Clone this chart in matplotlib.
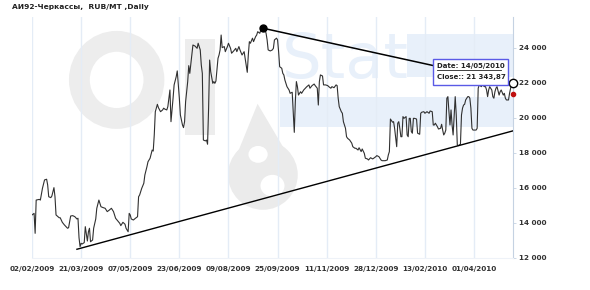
import matplotlib
matplotlib.use("Agg")
import matplotlib.pyplot as plt
import matplotlib.patches as mpatches
import pandas as pd

# ---------------- data ----------------
start_date = "2009-02-02"
day_offsets = [0, 2, 3, 4, 7, 8, 10, 12, 14, 15, 16, 18, 19, 21, 22, 23, 26, 27, 29, 31,
               34, 35, 37, 39, 41, 43, 44, 45, 46, 47, 48, 50, 51, 53, 54, 55, 56, 58, 59, 61,
               62, 64, 66, 68, 70, 72, 74, 76, 78, 80, 82, 84, 85, 87, 89, 90, 91, 92, 93, 94,
               95, 97, 99, 101, 102, 103, 105, 107, 108, 110, 111, 113, 115, 116, 117, 118, 120, 121, 123, 125,
               126, 127, 129, 130, 132, 133, 135, 136, 138, 139, 140, 141, 142, 144, 145, 146, 147, 149, 150, 151,
               153, 154, 156, 158, 159, 161, 162, 163, 164, 166, 167, 168, 169, 170, 171, 173, 174, 175, 176, 178,
               179, 180, 181, 182, 184, 185, 187, 188, 190, 191, 193, 195, 196, 198, 199, 201, 203, 204, 206, 207,
               208, 209, 211, 212, 214, 215, 216, 218, 219, 221, 223, 224, 225, 226, 228, 230, 231, 232, 234, 235,
               236, 237, 239, 240, 241, 242, 244, 246, 247, 249, 250, 251, 252, 253, 254, 255, 257, 258, 260, 262,
               263, 265, 266, 268, 270, 271, 273, 274, 275, 276, 278, 279, 281, 283, 284, 286, 287, 289, 291, 292,
               293, 294, 296, 297, 298, 300, 301, 302, 304, 306, 307, 309, 310, 312, 313, 315, 316, 318, 319, 321,
               322, 324, 326, 327, 329, 330, 332, 334, 335, 337, 338, 340, 341, 342, 343, 345, 346, 347, 349, 350,
               351, 352, 353, 354, 355, 356, 358, 359, 360, 361, 362, 363, 364, 365, 366, 368, 369, 371, 372, 373,
               375, 376, 378, 380, 381, 383, 384, 385, 386, 387, 388, 389, 391, 392, 393, 394, 395, 396, 397, 398,
               399, 400, 401, 402, 403, 404, 405, 406, 407, 408, 409, 410, 411, 412, 413, 414, 415, 416, 417, 418,
               419, 420, 421, 422, 424, 425, 426, 427, 428, 430, 431, 433, 434, 435, 436, 437, 438, 440, 441, 442,
               443, 444, 445, 447, 448, 449, 451, 452, 453, 454, 456, 457, 458, 459, 460]
close_values = [14460, 14550, 13410, 15310, 15350, 15310, 15980, 16460, 16500, 16170, 15500, 15450, 15540, 16020, 15500, 14460, 14300, 14300, 14040, 13890,
                13700, 13730, 14400, 14420, 14360, 14230, 14270, 13160, 12650, 12840, 12800, 12880, 13790, 12970, 13500, 13700, 12930, 13030, 13700, 14230,
                14840, 15310, 14930, 14880, 14840, 14650, 14740, 14840, 14650, 14270, 14120, 13980, 13850, 14040, 13930, 13700, 13600, 13500, 14550, 14460,
                14230, 14170, 14270, 14360, 15500, 15600, 15980, 16270, 16740, 17220, 17500, 17700, 18170, 18110, 19030, 20360, 20780, 20590, 20360, 20460,
                20560, 20510, 20460, 20650, 21600, 19790, 21130, 21890, 22360, 22690, 21890, 21130, 20170, 19600, 19450, 19790, 20930, 22080, 22990, 22550,
                23600, 24170, 24110, 23980, 24270, 23890, 23030, 22550, 18740, 18690, 18740, 18500, 20560, 23310, 22650, 21980, 22080, 21980, 22110, 23410,
                23600, 23890, 24740, 24020, 24080, 23790, 24080, 24270, 23980, 23700, 23830, 23980, 23790, 24080, 23890, 23600, 23790, 23410, 22610, 23600,
                24360, 24270, 24560, 24360, 24650, 24740, 24930, 24840, 25030, 25130, 25030, 24840, 24460, 23890, 23830, 23890, 23980, 24460, 24560, 24460,
                23790, 22930, 22840, 22550, 22460, 22170, 21790, 21600, 21410, 21470, 20360, 19180, 20930, 22080, 21790, 21310, 21500, 21410, 21600, 21730,
                21790, 21890, 21700, 21850, 21940, 21850, 21700, 20740, 22080, 22460, 22400, 21890, 21890, 21850, 21790, 21700, 21790, 21730, 21890, 21850,
                21130, 20650, 20360, 20270, 19790, 19410, 18930, 18840, 18740, 18560, 18360, 18270, 18270, 18170, 18300, 18080, 18230, 17980, 17700, 17660,
                17600, 17730, 17660, 17700, 17790, 17850, 17790, 17600, 17560, 17560, 17560, 17600, 17890, 18080, 19940, 19760, 19790, 19410, 18360, 19700,
                19790, 19410, 18930, 18930, 20080, 19980, 20080, 19030, 18930, 19980, 19980, 19220, 19130, 19980, 19980, 19940, 19130, 19070, 20270, 20330,
                20360, 20270, 20360, 20270, 20400, 20360, 19600, 19600, 19700, 19600, 19500, 19370, 19410, 19640, 19310, 19030, 19130, 19310, 21130, 21220,
                20360, 19600, 20460, 19600, 19030, 20170, 21220, 20170, 18460, 18420, 18460, 18500, 20170, 20560, 20740, 20780, 21030, 21130, 21220, 21220,
                21130, 20560, 19410, 19310, 19310, 19310, 19410, 21700, 21890, 21790, 21890, 21790, 21790, 21600, 21220, 21600, 21790, 21600, 21220, 21130,
                21500, 21700, 21790, 21310, 21500, 21600, 21310, 21410, 21130, 21030, 21030, 21410, 21700, 21980, 22000]

# trend lines (day offset, value)
upper_trend_days = [221, 460]
upper_trend_vals = [25130, 22000]
lower_trend_days = [43, 460]
lower_trend_vals = [12500, 19260]

last_close_day = 460
last_close = 21343.87

x_tick_labels = ["02/02/2009", "21/03/2009", "07/05/2009", "23/06/2009", "09/08/2009",
                 "25/09/2009", "11/11/2009", "28/12/2009", "13/02/2010", "01/04/2010"]
y_ticks = [12000, 14000, 16000, 18000, 20000, 22000, 24000]

title = "АИ92-Черкассы,  RUB/MT ,Daily"
tooltip_date = "Date: 14/05/2010"
tooltip_close = "Close:: 21 343,87"

# ---------------- figure ----------------
W, H = 590, 290
fig = plt.figure(figsize=(W / 100, H / 100), dpi=100)
fig.patch.set_facecolor("white")
ax = fig.add_axes([32 / W, 1 - 258 / H, (513 - 32) / W, (258 - 17) / H])
ax.set_facecolor("white")

# --- watermark (OilStat logo, decorative) ---
wm_gray = "#ededed"
wm_blue = "#e8f0fa"
ax.add_patch(mpatches.Ellipse((0.176, 0.739), 0.155, 0.32, transform=ax.transAxes,
                              fill=False, edgecolor=wm_gray, linewidth=15, zorder=0))
ax.add_patch(mpatches.Rectangle((0.318, 0.51), 0.062, 0.40, transform=ax.transAxes,
                                facecolor=wm_gray, edgecolor="none", zorder=0))
ax.add_patch(mpatches.Ellipse((0.48, 0.345), 0.145, 0.29, transform=ax.transAxes,
                              facecolor="#ebebeb", edgecolor="none", zorder=0))
ax.add_patch(mpatches.Polygon([(0.42, 0.40), (0.469, 0.64), (0.54, 0.40)], closed=True,
                              transform=ax.transAxes, facecolor="#ebebeb", edgecolor="none", zorder=0))
ax.add_patch(mpatches.Ellipse((0.47, 0.43), 0.04, 0.07, transform=ax.transAxes,
                              facecolor="white", edgecolor="none", zorder=0))
ax.add_patch(mpatches.Ellipse((0.50, 0.30), 0.05, 0.09, transform=ax.transAxes,
                              facecolor="white", edgecolor="none", zorder=0))
ax.text(0.52, 0.94, "Stat", transform=ax.transAxes, fontsize=45, color=wm_blue,
        ha="left", va="top", zorder=0, family="DejaVu Sans")
ax.add_patch(mpatches.Rectangle((0.78, 0.75), 0.22, 0.18, transform=ax.transAxes,
                                facecolor=wm_blue, edgecolor="none", zorder=0))
ax.add_patch(mpatches.Rectangle((0.515, 0.545), 0.485, 0.125, transform=ax.transAxes,
                                facecolor=wm_blue, edgecolor="none", zorder=0))

# --- x ticks / grid ---
start = pd.Timestamp(start_date)
x_tick_pos = [(pd.to_datetime(s, dayfirst=True) - start).days for s in x_tick_labels]
for p in x_tick_pos:
    ax.axvline(p, color="#e4ecf6", linewidth=1.0, zorder=1)

# --- series ---
ax.plot(day_offsets, close_values, color="#303030", linewidth=0.8, zorder=3)
ax.plot(upper_trend_days, upper_trend_vals, color="black", linewidth=1.1, zorder=4)
ax.plot(lower_trend_days, lower_trend_vals, color="black", linewidth=1.0, zorder=4)
ax.plot(upper_trend_days[0], upper_trend_vals[0], "o", color="black", markersize=5, zorder=5)
ax.plot(upper_trend_days[1], upper_trend_vals[1], "o", markerfacecolor="white",
        markeredgecolor="black", markersize=6, markeredgewidth=1.0, zorder=6, clip_on=False)
ax.plot(last_close_day, last_close, "o", color="#c01010", markersize=3, zorder=6, clip_on=False)

ax.set_xlim(0, 460.3)
ax.set_ylim(12000, 25770)

ax.set_xticks(x_tick_pos)
ax.set_xticklabels(x_tick_labels)
ax.set_yticks(y_ticks)
ax.set_yticklabels([f"{v:,}".replace(",", " ") for v in y_ticks])
ax.yaxis.tick_right()
ax.tick_params(axis="x", length=0, pad=6, labelsize=5.2, labelcolor="#333333")
ax.tick_params(axis="y", length=2.5, width=0.6, color="#c5d2e2", pad=2,
               labelsize=5.2, labelcolor="#333333")
for lbl in ax.get_xticklabels():
    lbl.set_fontweight("bold")
for lbl in ax.get_yticklabels():
    lbl.set_fontweight("bold")

for side in ["left", "top"]:
    ax.spines[side].set_visible(False)
ax.spines["right"].set_color("#c5d2e2")
ax.spines["right"].set_linewidth(0.8)
ax.spines["bottom"].set_color("#eef2f8")
ax.spines["bottom"].set_linewidth(0.8)

# --- tooltip ---
bx0, by0, bx1, by1 = 432.7, 59.3, 507.7, 85.3
ax.add_patch(mpatches.Rectangle((bx0 / W, 1 - by1 / H), (bx1 - bx0) / W, (by1 - by0) / H,
                                transform=fig.transFigure, facecolor="white",
                                edgecolor="#5a5ae6", linewidth=1.0, zorder=7, clip_on=False))
fig.text(437 / W, 1 - 66 / H, tooltip_date, fontsize=5.0, fontweight="bold",
         color="#222222", va="center", ha="left", zorder=8)
fig.add_artist(plt.Line2D([437 / W, 501 / W], [1 - 69.5 / H, 1 - 69.5 / H],
                          color="#222222", linewidth=0.6, zorder=8))
fig.text(437 / W, 1 - 76.5 / H, tooltip_close, fontsize=5.0, fontweight="bold",
         color="#222222", va="center", ha="left", zorder=8)

# --- title ---
fig.text(12 / W, 1 - 7 / H, title, fontsize=5.4, fontweight="bold", color="#222222",
         va="center", ha="left", family=["DejaVu Sans"])

fig.savefig("out.png", dpi=100, facecolor="white")
